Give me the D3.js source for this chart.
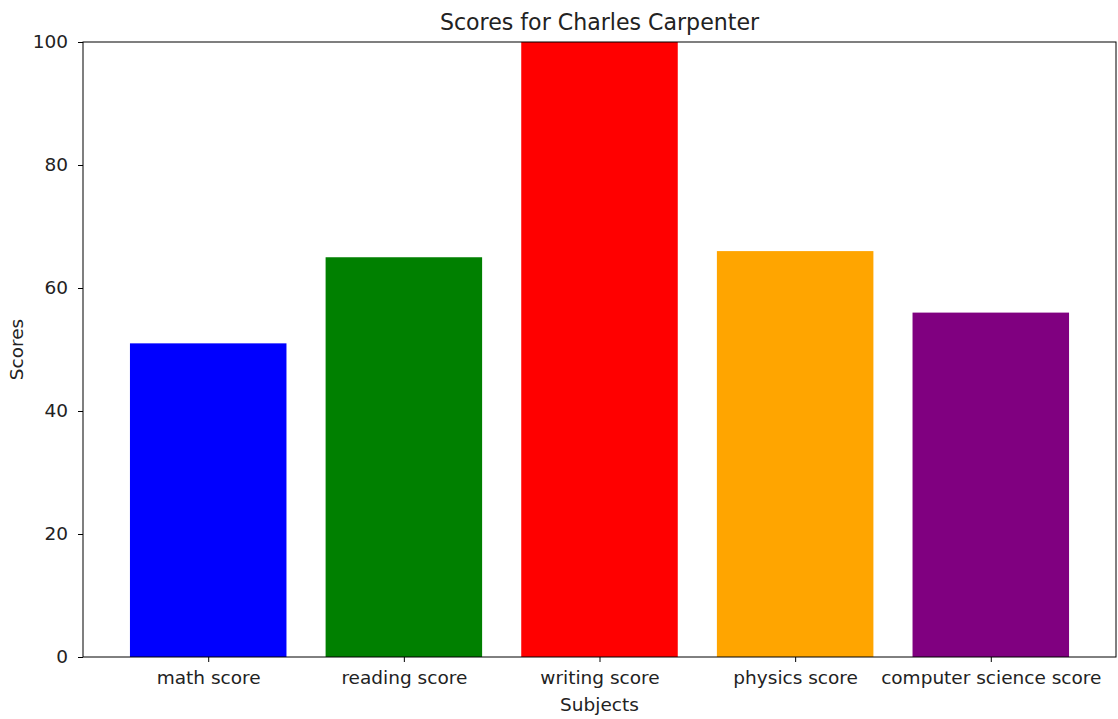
<!DOCTYPE html>
<html>
<head>
<meta charset="utf-8">
<script src="https://cdn.jsdelivr.net/npm/d3@7"></script>
<style>
  body { margin: 0; background: #fff; }
  svg { font-family: "DejaVu Sans", sans-serif; }
</style>
</head>
<body>
<svg id="chart" width="1118" height="719"></svg>
<script>
const subjects = ["math score", "reading score", "writing score", "physics score", "computer science score"];
const scores = [51, 65, 100, 66, 56];
const barColors = ["blue", "green", "red", "orange", "purple"];
const yTicks = [0, 20, 40, 60, 80, 100];

const svg = d3.select("#chart");
const mLeft = 83, mRight = 1116, mTop = 42, mBottom = 657;
const textColor = "#222";
const tickFont = 18.5;

// matplotlib-like continuous x with bar width 0.8 and 5% margins
const x = d3.scaleLinear().domain([-0.64, subjects.length - 1 + 0.64]).range([mLeft, mRight]);
const y = d3.scaleLinear().domain([0, 100]).range([mBottom, mTop]);
const bw = 0.8;

svg.append("g").selectAll("rect")
  .data(scores)
  .enter().append("rect")
  .attr("x", (d, i) => x(i - bw / 2))
  .attr("width", (d, i) => x(i + bw / 2) - x(i - bw / 2))
  .attr("y", d => y(d))
  .attr("height", d => y(0) - y(d))
  .attr("fill", (d, i) => barColors[i]);

// frame
svg.append("rect")
  .attr("x", mLeft).attr("y", mTop)
  .attr("width", mRight - mLeft).attr("height", mBottom - mTop)
  .attr("fill", "none").attr("stroke", "#000").attr("stroke-width", 1);

const yAxis = svg.append("g")
  .attr("transform", `translate(${mLeft},0)`)
  .call(d3.axisLeft(y).tickValues(yTicks).tickSize(5).tickPadding(10));
yAxis.select(".domain").remove();
yAxis.selectAll("text").attr("font-size", tickFont).attr("fill", textColor).attr("font-family", "DejaVu Sans");

const xAxis = svg.append("g")
  .attr("transform", `translate(0,${mBottom})`)
  .call(d3.axisBottom(x).tickValues(d3.range(subjects.length)).tickFormat(i => subjects[i]).tickSize(5).tickPadding(9));
xAxis.select(".domain").remove();
xAxis.selectAll("text").attr("font-size", tickFont).attr("fill", textColor).attr("font-family", "DejaVu Sans");

svg.append("text")
  .attr("x", (mLeft + mRight) / 2).attr("y", 30)
  .attr("text-anchor", "middle")
  .attr("font-size", 22.1)
  .attr("fill", textColor)
  .text("Scores for Charles Carpenter");

svg.append("text")
  .attr("x", (mLeft + mRight) / 2).attr("y", 711)
  .attr("text-anchor", "middle")
  .attr("font-size", tickFont)
  .attr("fill", textColor)
  .text("Subjects");

svg.append("text")
  .attr("transform", `translate(23,${(mTop + mBottom) / 2}) rotate(-90)`)
  .attr("text-anchor", "middle")
  .attr("font-size", tickFont)
  .attr("fill", textColor)
  .text("Scores");
</script>
</body>
</html>
